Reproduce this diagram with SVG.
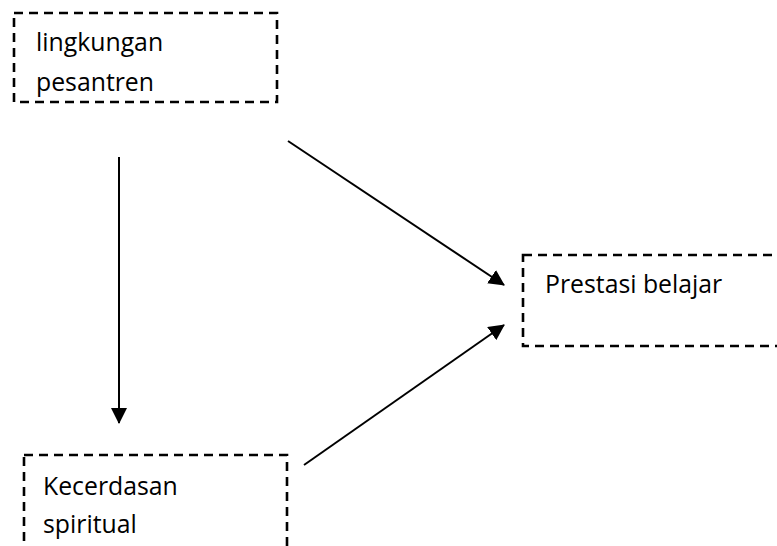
<svg xmlns="http://www.w3.org/2000/svg" width="777" height="546" viewBox="0 0 777 546">
<style>
.box{fill:none;stroke:#000;stroke-width:2.6;stroke-dasharray:9 6}
.lbl{font-family:"Open Sans","Noto Sans",sans-serif;font-size:24.8px;fill:#000}
.conn{stroke:#000;stroke-width:2;fill:none;marker-end:url(#ah)}
</style>
<defs>
<marker id="ah" markerUnits="userSpaceOnUse" markerWidth="16" markerHeight="16" viewBox="0 0 16 16" refX="15" refY="8" orient="auto">
<path d="M0,0 L16,8 L0,16 Z" fill="#000"/>
</marker>
</defs>
<rect width="777" height="546" fill="#fff"/>
<g id="node-lingkungan">
<rect class="box" x="14" y="13" width="263" height="89"/>
<text class="lbl" x="36" y="51">lingkungan</text>
<text class="lbl" x="36" y="91">pesantren</text>
</g>
<g id="node-prestasi">
<rect class="box" x="523" y="255" width="280" height="91"/>
<text class="lbl" x="545" y="293">Prestasi belajar</text>
</g>
<g id="node-kecerdasan">
<rect class="box" x="24" y="455" width="263" height="110"/>
<text class="lbl" x="43" y="495">Kecerdasan</text>
<text class="lbl" x="43" y="533">spiritual</text>
</g>
<g id="connectors">
<line class="conn" x1="119" y1="157" x2="119" y2="423"/>
<line class="conn" x1="288" y1="141" x2="504" y2="285"/>
<line class="conn" x1="304" y1="465" x2="504" y2="325"/>
</g>
</svg>
